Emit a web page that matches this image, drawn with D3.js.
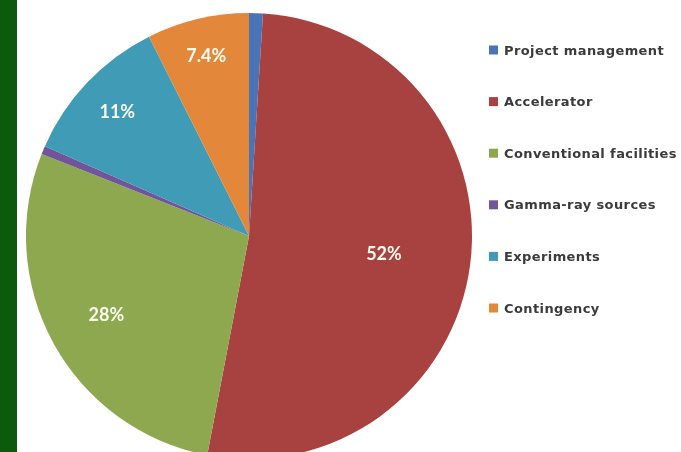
<!DOCTYPE html>
<html>
<head>
<meta charset="utf-8">
<script src="https://cdn.jsdelivr.net/npm/d3@7"></script>
<style>
  html, body { margin: 0; padding: 0; background: #fff; }
  svg { display: block; }
</style>
</head>
<body>
<svg id="chart" width="681" height="452"></svg>
<script>
// Budget breakdown by work package (percent of total)
const categories = [
  "Project management",
  "Accelerator",
  "Conventional facilities",
  "Gamma-ray sources",
  "Experiments",
  "Contingency"
];
const shares = [1.0, 52, 28, 0.6, 11, 7.4];
const shareLabels = ["", "52%", "28%", "", "11%", "7.4%"];
const colors = ["#4a74b8", "#a8433f", "#8ea84f", "#6f559a", "#3f9bb6", "#e3873b"];

const W = 681, H = 452;
const svg = d3.select("#chart");

// soft focus applied to the whole drawing
const defs = svg.append("defs");
defs.append("filter").attr("id", "soft")
  .attr("x", "-5%").attr("y", "-5%").attr("width", "110%").attr("height", "110%")
  .append("feGaussianBlur").attr("stdDeviation", 0.7);

const root = svg.append("g").attr("filter", "url(#soft)");

// dark green side band
root.append("rect")
  .attr("x", 0).attr("y", 0)
  .attr("width", 17).attr("height", H)
  .attr("fill", "#0c5a0c");

const cx = 249, cy = 236, R = 223;
const data = categories.map((c, i) => ({ name: c, value: shares[i], label: shareLabels[i], color: colors[i] }));

const pie = d3.pie().value(d => d.value).sort(null).startAngle(0).endAngle(2 * Math.PI);
const arcs = pie(data);
const total = d3.sum(shares);

const arc = d3.arc().innerRadius(0).outerRadius(R);

const g = root.append("g").attr("transform", `translate(${cx},${cy})`);

g.selectAll("path.slice")
  .data(arcs)
  .join("path")
  .attr("class", "slice")
  .attr("d", arc)
  .attr("fill", d => d.data.color);

// labels: larger slices sit closer to the centre
g.selectAll("text.pct")
  .data(arcs.filter(d => d.data.label))
  .join("text")
  .attr("class", "pct")
  .attr("transform", d => {
    const frac = d.data.value / total;
    const lr = R * (0.87 - 0.5 * frac);
    const a = (d.startAngle + d.endAngle) / 2;
    return `translate(${lr * Math.sin(a)},${-lr * Math.cos(a)})`;
  })
  .attr("text-anchor", "middle")
  .attr("dominant-baseline", "central")
  .attr("fill", "#fbfbf0")
  .style("font-family", "Lato, 'Open Sans', sans-serif")
  .style("font-weight", "bold")
  .style("font-size", "18px")
  .text(d => d.data.label);

// legend
const legendY = d3.scalePoint().domain(categories).range([50, 308]);
const items = root.append("g").selectAll("g.item")
  .data(data)
  .join("g")
  .attr("class", "item")
  .attr("transform", d => `translate(489,${legendY(d.name)})`);

items.append("rect")
  .attr("x", 0).attr("y", -4.5)
  .attr("width", 9).attr("height", 9)
  .attr("fill", d => d.color);

items.append("text")
  .attr("x", 15).attr("y", 0)
  .attr("dominant-baseline", "central")
  .attr("fill", "#3a3a3a")
  .style("font-family", "'DejaVu Sans', sans-serif")
  .style("font-size", "13px")
  .style("font-weight", "bold")
  .style("letter-spacing", "0.4px")
  .text(d => d.name);
</script>
</body>
</html>
